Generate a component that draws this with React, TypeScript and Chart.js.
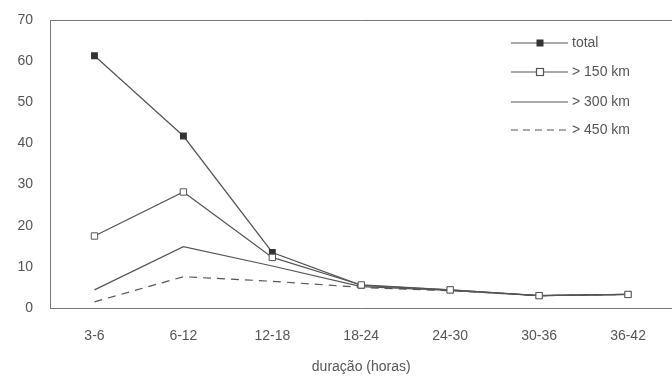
import React, { useEffect, useRef } from "react";
import { Chart, registerables } from "chart.js";

Chart.register(...registerables);

const categories = ["3-6", "6-12", "12-18", "18-24", "24-30", "30-36", "36-42"];
const total = [61.3, 41.8, 13.5, 5.5, 4.4, 3.0, 3.3];
const over150 = [17.5, 28.2, 12.3, 5.6, 4.4, 3.0, 3.3];
const over300 = [4.4, 14.9, 10.2, 5.2, 4.3, 3.0, 3.3];
const over450 = [1.5, 7.6, 6.5, 5.0, 4.2, 3.0, 3.3];
const yTicks = [0, 10, 20, 30, 40, 50, 60, 70];
const legendLabels = ["total", "> 150 km", "> 300 km", "> 450 km"];
const xTitle = "duração (horas)";

const FONT = "'Liberation Sans', Arial, sans-serif";
const TEXT = "#555";
const LINE = "#555";

const legendPlugin = {
  id: "customLegend",
  afterDraw(chart: any) {
    const { ctx, chartArea } = chart;
    ctx.save();
    ctx.strokeStyle = "#777";
    ctx.lineWidth = 1;
    ctx.beginPath();
    ctx.moveTo(chartArea.left, chartArea.top + 0.5);
    ctx.lineTo(chartArea.right, chartArea.top + 0.5);
    ctx.stroke();

    const ys = [43, 72, 102, 130];
    const x0 = 511;
    const x1 = 568;
    const xm = 540;
    ys.forEach((y, i) => {
      ctx.strokeStyle = LINE;
      ctx.lineWidth = 1.2;
      ctx.setLineDash(i === 3 ? [7, 5] : []);
      ctx.beginPath();
      ctx.moveTo(x0, y);
      ctx.lineTo(x1, y);
      ctx.stroke();
      ctx.setLineDash([]);
      if (i === 0) {
        ctx.fillStyle = "#333";
        ctx.fillRect(xm - 3.5, y - 3.5, 7, 7);
      } else if (i === 1) {
        ctx.fillStyle = "#fff";
        ctx.fillRect(xm - 3.5, y - 3.5, 7, 7);
        ctx.strokeStyle = "#555";
        ctx.strokeRect(xm - 3.5, y - 3.5, 7, 7);
      }
      ctx.fillStyle = TEXT;
      ctx.font = `14px ${FONT}`;
      ctx.textBaseline = "middle";
      ctx.textAlign = "left";
      ctx.fillText(legendLabels[i], 572, y);
    });
    ctx.restore();
  },
};

export default function App() {
  const ref = useRef<HTMLCanvasElement>(null);
  useEffect(() => {
    if (!ref.current) return;
    const chart = new Chart(ref.current, {
      type: "line",
      data: {
        labels: categories,
        datasets: [
          {
            label: legendLabels[0],
            data: total,
            order: 2,
            borderColor: LINE,
            borderWidth: 1.2,
            pointStyle: "rect",
            pointRadius: 4,
            pointBackgroundColor: "#333",
            pointBorderColor: "#333",
            tension: 0,
          },
          {
            label: legendLabels[1],
            data: over150,
            order: 1,
            borderColor: LINE,
            borderWidth: 1.2,
            pointStyle: "rect",
            pointRadius: 4.5,
            pointBackgroundColor: "#fff",
            pointBorderColor: "#555",
            pointBorderWidth: 1,
            tension: 0,
          },
          {
            label: legendLabels[2],
            data: over300,
            order: 3,
            borderColor: LINE,
            borderWidth: 1.2,
            pointRadius: 0,
            tension: 0,
          },
          {
            label: legendLabels[3],
            data: over450,
            order: 4,
            borderColor: LINE,
            borderWidth: 1.2,
            borderDash: [8, 6],
            pointRadius: 0,
            tension: 0,
          },
        ],
      },
      options: {
        animation: false,
        responsive: true,
        maintainAspectRatio: false,
        layout: { padding: { top: 20, right: 0, left: 0, bottom: 0 } },
        plugins: { legend: { display: false }, tooltip: { enabled: false } },
        scales: {
          x: {
            offset: true,
            grid: { display: false, drawTicks: false },
            border: { display: true, color: "#777", width: 1 },
            ticks: {
              color: TEXT,
              font: { family: FONT, size: 14 },
              padding: 20,
              maxRotation: 0,
            },
            title: {
              display: true,
              text: xTitle,
              color: TEXT,
              font: { family: FONT, size: 14 },
              padding: { top: 14, bottom: 0 },
            },
            afterFit: (s: any) => {
              s.height = 68;
              s.paddingLeft = 0;
              s.paddingRight = 0;
            },
          },
          y: {
            min: 0,
            max: 70,
            afterBuildTicks: (s: any) => {
              s.ticks = yTicks.map((v) => ({ value: v }));
            },
            grid: { display: false, drawTicks: false },
            border: { display: true, color: "#777", width: 1 },
            ticks: {
              color: TEXT,
              font: { family: FONT, size: 14 },
              padding: 17,
            },
            afterFit: (s: any) => {
              s.width = 50;
              s.paddingTop = 0;
              s.paddingBottom = 0;
            },
          },
        },
      },
      plugins: [legendPlugin],
    });
    return () => chart.destroy();
  }, []);
  return (
    <div style={{ position: "fixed", left: 0, top: 0, width: 678, height: 376, background: "#fff" }}>
      <canvas ref={ref} />
    </div>
  );
}
